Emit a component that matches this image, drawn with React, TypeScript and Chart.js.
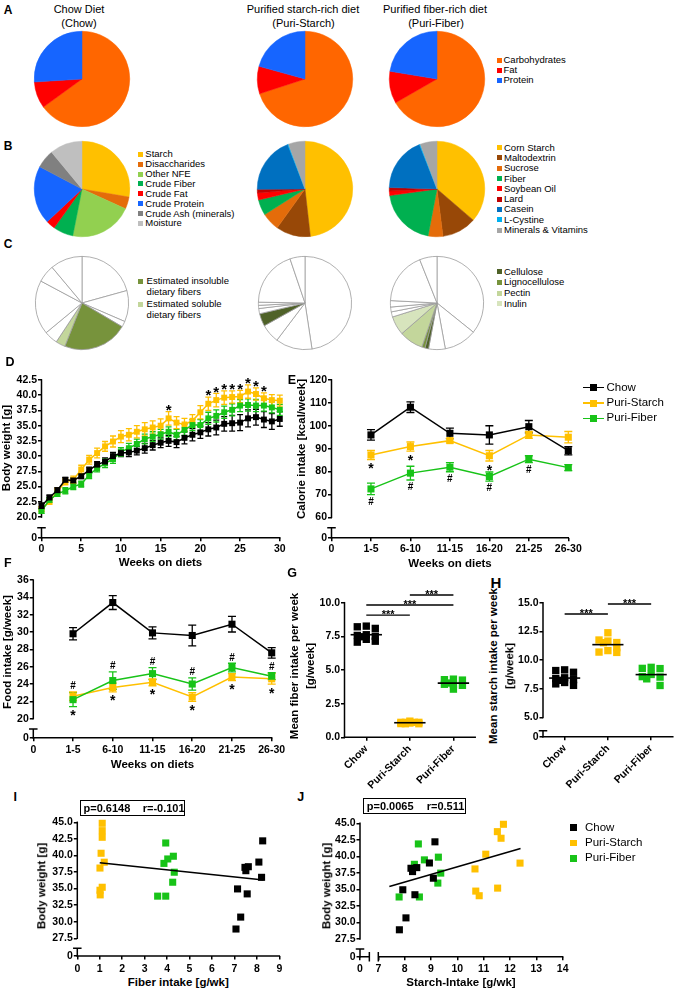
import React, { useEffect, useRef } from 'react';
import { Chart, registerables } from 'chart.js';

Chart.register(...registerables);

const FONT = "'Liberation Sans', Arial, Helvetica, sans-serif";
Chart.defaults.font.family = FONT;
Chart.defaults.color = '#000';

const BLACK = '#000000';
const YELLOW = '#FFC000';
const GREEN = '#18C318';

/* ================= DATA ================= */
/* Panel A: energy shares (%) */
const macroLabels = ['Carbohydrates', 'Fat', 'Protein'];
const macroColors = ['#FF6600', '#FF0000', '#1665FF'];
const macroChow = [65.0, 9.0, 26.0];
const macroPuriStarch = [70.0, 9.3, 20.7];
const macroPuriFiber = [66.7, 10.9, 22.4];

/* Panel B: composition (%) */
const chowCompLabels = ['Starch', 'Disaccharides', 'Other NFE', 'Crude Fiber', 'Crude Fat', 'Crude Protein', 'Crude Ash (minerals)', 'Moisture'];
const chowCompColors = ['#FFC000', '#E46C0A', '#92D050', '#00B050', '#FF0000', '#1665FF', '#808080', '#BFBFBF'];
const chowComp = [27.7, 4.1, 21.3, 6.8, 3.1, 19.7, 6.3, 11.0];
const puriCompLabels = ['Corn Starch', 'Maltodextrin', 'Sucrose', 'Fiber', 'Soybean Oil', 'Lard', 'Casein', 'L-Cystine', 'Minerals & Vitamins'];
const puriCompColors = ['#FFC000', '#984807', '#E46C0A', '#00B050', '#FF0000', '#C00000', '#0070C0', '#00B0F0', '#A6A6A6'];
const puriStarchComp = [48.2, 11.7, 6.1, 5.3, 2.4, 1.2, 19.2, 0.3, 5.6];
const puriFiberComp = [36.3, 11.7, 5.0, 19.8, 1.5, 1.2, 18.5, 0.3, 5.7];

/* Panel C: fiber slices (%) */
const fiberTypeColors: any = { other: '#FFFFFF', insoluble: '#77933C', soluble: '#C3D69B', cellulose: '#4F6228', lignocellulose: '#77933C', pectin: '#C3D69B', inulin: '#D7E4BD' };
const chowFiberSlices = [20.7, 10.8, 2.0, 22.5, 3.3, 4.7, 18.8, 6.1, 11.1];
const chowFiberTypes = ['other', 'other', 'other', 'insoluble', 'soluble', 'other', 'other', 'other', 'other'];
const starchFiberSlices = [47.6, 12.7, 6.6, 4.4, 1.8, 1.1, 1.1, 19.5, 5.2];
const starchFiberTypes = ['other', 'other', 'other', 'cellulose', 'other', 'other', 'other', 'other', 'other'];
const fiberFiberSlices = [35.78, 11.36, 5.78, 1.25, 1.11, 8.33, 6.56, 1.78, 1.67, 2.22, 18.14, 6.03];
const fiberFiberTypes = ['other', 'other', 'other', 'cellulose', 'lignocellulose', 'pectin', 'inulin', 'other', 'other', 'other', 'other', 'other'];

/* Panel D: body weight (g) */
const weeks = [0, 1, 2, 3, 4, 5, 6, 7, 8, 9, 10, 11, 12, 13, 14, 15, 16, 17, 18, 19, 20, 21, 22, 23, 24, 25, 26, 27, 28, 29, 30];
const bwChow = [21.8, 23.2, 24.4, 26.1, 26.0, 26.7, 27.7, 28.6, 29.1, 30.0, 30.5, 30.6, 30.9, 31.3, 31.8, 32.2, 32.5, 32.3, 33.0, 33.5, 33.9, 34.4, 34.7, 35.3, 35.4, 35.5, 36.2, 36.4, 36.0, 35.7, 36.1];
const bwChowSem = [0.5, 0.4, 0.4, 0.4, 0.4, 0.4, 0.5, 0.5, 0.6, 0.6, 0.6, 0.7, 0.7, 0.8, 0.8, 0.8, 0.9, 0.9, 1.0, 1.0, 1.0, 1.1, 1.2, 1.2, 1.3, 1.3, 1.4, 1.3, 1.3, 1.3, 1.2];
const bwStarch = [21.3, 22.5, 24.2, 25.8, 26.1, 27.8, 29.4, 30.5, 31.6, 32.4, 33.2, 33.5, 34.0, 34.4, 34.7, 35.0, 36.2, 35.5, 35.2, 35.8, 37.2, 38.6, 39.2, 39.6, 39.7, 39.8, 40.6, 40.2, 39.5, 39.2, 39.1];
const bwStarchSem = [0.4, 0.4, 0.5, 0.5, 0.6, 0.7, 0.7, 0.8, 0.8, 0.9, 1.0, 1.0, 1.0, 1.1, 1.1, 1.1, 1.1, 1.0, 1.0, 1.0, 1.1, 1.1, 1.1, 1.1, 1.0, 1.0, 1.1, 1.0, 0.9, 0.9, 0.9];
const bwFiber = [21.0, 22.8, 23.8, 24.3, 25.0, 25.4, 26.9, 28.0, 28.8, 29.5, 30.7, 31.3, 32.0, 32.8, 33.2, 33.6, 34.0, 33.5, 34.3, 35.1, 35.1, 36.2, 36.6, 37.2, 37.6, 38.3, 38.4, 38.3, 38.3, 38.0, 37.6];
const bwFiberSem = [0.4, 0.4, 0.4, 0.5, 0.5, 0.5, 0.6, 0.6, 0.7, 0.7, 0.7, 0.8, 0.8, 0.8, 0.8, 0.8, 0.8, 0.9, 0.9, 0.9, 0.9, 1.0, 1.0, 1.0, 1.0, 1.0, 1.0, 1.0, 0.9, 0.9, 0.9];
const bwStarchSigWeeks = [16, 21, 22, 23, 24, 25, 26, 27, 28];
const bwTicks = [20, 22.5, 25, 27.5, 30, 32.5, 35, 37.5, 40, 42.5];
const weekTicks = [0, 5, 10, 15, 20, 25, 30];

/* Panels E/F: per 5-week period */
const periodLabels = ['0', '1-5', '6-10', '11-15', '16-20', '21-25', '26-30'];
const periodPos = [1, 2, 3, 4, 5, 6];
const kcalChow = [96.0, 108.1, 96.7, 96.0, 99.6, 89.1];
const kcalChowSem = [2.3, 2.3, 2.3, 4.0, 2.7, 1.8];
const kcalStarch = [87.2, 90.9, 93.5, 86.9, 96.0, 95.0];
const kcalStarchSem = [2.0, 2.0, 1.0, 2.3, 1.5, 2.5];
const kcalFiber = [72.4, 79.3, 81.9, 77.8, 85.4, 81.7];
const kcalFiberSem = [2.5, 3.0, 2.0, 2.0, 1.5, 1.3];
const kcalStarchSig = [1, 2, 4];
const kcalFiberSig = [1, 2, 3, 4, 5];
const kcalTicks = [60, 70, 80, 90, 100, 110, 120];

const foodChow = [29.8, 33.4, 29.9, 29.6, 30.9, 27.6];
const foodChowSem = [0.7, 0.8, 0.7, 1.2, 0.9, 0.6];
const foodStarch = [22.6, 23.6, 24.2, 22.5, 24.8, 24.6];
const foodStarchSem = [0.5, 0.5, 0.4, 0.5, 0.4, 0.6];
const foodFiber = [22.2, 24.4, 25.2, 24.0, 25.9, 24.9];
const foodFiberSem = [0.8, 1.0, 0.7, 0.7, 0.5, 0.4];
const foodSig = [1, 2, 3, 4, 5, 6];
const foodTicks = [20, 22, 24, 26, 28, 30, 32, 34, 36];

/* Panels G-J: per mouse */
const groupLabels = ['Chow', 'Puri-Starch', 'Puri-Fiber'];
const chowFiberIntake = [8.26, 8.09, 7.47, 7.62, 7.51, 8.21, 7.14, 7.57, 7.28, 7.07];
const chowStarchIntake = [9.15, 8.94, 8.24, 8.46, 8.30, 9.09, 7.93, 8.39, 8.05, 7.80];
const chowBodyWeight = [42.2, 39.0, 38.2, 38.3, 37.7, 36.7, 34.95, 34.2, 30.7, 28.9];
const starchFiberIntake = [1.11, 1.11, 1.11, 1.06, 1.20, 1.01, 1.11, 1.01, 1.02];
const starchStarchIntake = [11.75, 11.52, 11.66, 11.08, 12.38, 10.67, 11.53, 10.70, 10.83];
const starchBodyWeight = [44.85, 43.74, 42.74, 40.33, 38.98, 38.1, 35.2, 34.75, 34.05];
const fiberFiberIntake = [3.94, 3.86, 4.03, 4.28, 4.32, 4.25, 3.58, 3.94];
const fiberStarchIntake = [8.52, 8.37, 8.75, 9.28, 9.37, 9.26, 7.79, 8.56];
const fiberBodyWeight = [41.88, 38.8, 39.47, 39.88, 37.47, 35.96, 33.86, 33.86];
const fiberIntakeTicks = [0, 2.5, 5, 7.5, 10];
const starchIntakeTicks = [5, 7.5, 10, 12.5, 15];
const sigFiberIntake = [[0, 1, 9.08], [0, 2, 9.83], [1, 2, 10.57]];
const sigStarchIntake = [[0, 1, 14.02], [1, 2, 14.89]];
const bwScatterTicks = [27.5, 30, 32.5, 35, 37.5, 40, 42.5, 45];
const fiberXTicks = [0, 1, 2, 3, 4, 5, 6, 7, 8, 9];
const starchXTicks = [7, 8, 9, 10, 11, 12, 13, 14];
const fitFiberX = [1.0, 8.3];
const fitFiberY = [38.9, 36.3];
const fitStarchX = [7.42, 12.4];
const fitStarchY = [35.45, 41.2];
const statsFiber = ['p=0.6148', 'r=-0.101'];
const statsStarch = ['p=0.0065', 'r=0.511'];

/* ================= LAYOUT (axis break positions) ================= */
const BW_ZERO = 16.6, BW_STUB = 18.24;
const KCAL_ZERO = 51.08, KCAL_STUB = 55.45;
const FOOD_ZERO = 17.81, FOOD_STUB = 18.81;
const STARCHI_ZERO = 3.32, STARCHI_STUB = 3.85;
const SC_ZERO = 24.83, SC_STUB = 25.99;
const SX_ZERO = 6.305, SX_STUB = 6.66;

/* ================= HELPERS ================= */
type Area = { l: number; r: number; t: number; b: number };
function frame(a: Area, m: { L: number; R: number; T: number; B: number }) {
  const left = Math.floor(a.l - m.L);
  const top = Math.floor(a.t - m.T);
  const width = Math.ceil(a.r + m.R - left);
  const height = Math.ceil(a.b + m.B - top);
  const L = a.l - left;
  const T = a.t - top;
  const R = width - L - (a.r - a.l);
  const B = height - T - (a.b - a.t);
  return { left, top, width, height, L, R, T, B, a };
}

function axis(kind: 'x' | 'y', p: any) {
  return {
    type: 'linear',
    position: kind === 'x' ? 'bottom' : 'left',
    min: p.min,
    max: p.max,
    bounds: 'data',
    afterBuildTicks: (s: any) => { s.ticks = p.ticks.map((v: number) => ({ value: v })); },
    afterFit: (s: any) => { if (kind === 'x') s.height = p.size; else s.width = p.size; },
    ticks: {
      autoSkip: false,
      callback: (_v: any, i: number) => p.labels[i],
      color: BLACK,
      font: { family: FONT, size: p.font ?? 10.5, weight: 'bold' },
      padding: p.pad ?? 1,
      maxRotation: p.rot ?? 0,
      minRotation: p.rot ?? 0,
    },
    grid: { display: true, drawOnChartArea: false, drawTicks: true, tickLength: 3.5, color: BLACK, tickColor: BLACK, tickWidth: 1.5, lineWidth: 1.5 },
    border: { display: false },
  };
}

function series(xs: number[], ys: number[], errs: number[] | null, color: string, r: number, showLine = true) {
  return {
    data: xs.map((x, i) => ({ x, y: ys[i] })),
    errors: errs,
    borderColor: color,
    backgroundColor: color,
    pointBackgroundColor: color,
    pointBorderWidth: 0,
    pointStyle: 'rect',
    pointRadius: r,
    borderWidth: 1.5,
    showLine,
    tension: 0,
    clip: false,
  };
}

function mean(v: number[]) { return v.reduce((s, x) => s + x, 0) / v.length; }

function swarm(values: number[], center: number, pxX: number, pxY: number, size: number, offs: number[]) {
  const order = values.map((_v, i) => i).sort((a, b) => values[b] - values[a]);
  const placed: { x: number; y: number }[] = [];
  const out: number[] = new Array(values.length);
  for (const i of order) {
    const y = values[i] * pxY;
    let best = offs[0];
    let bestScore = -Infinity;
    for (const off of offs) {
      let minD = Infinity;
      for (const p of placed) minD = Math.min(minD, Math.max(Math.abs(p.x - off), Math.abs(p.y - y)));
      if (minD >= size) { best = off; break; }
      if (minD > bestScore) { bestScore = minD; best = off; }
    }
    placed.push({ x: best, y });
    out[i] = center + best / pxX;
  }
  return out;
}

function makePrism(cfg: any) {
  return {
    id: 'prism',
    beforeDatasetsDraw(chart: any) {
      const ctx = chart.ctx;
      const xs = chart.scales.x, ys = chart.scales.y, ca = chart.chartArea;
      ctx.save();
      ctx.strokeStyle = BLACK;
      ctx.lineWidth = 1.5;
      ctx.lineCap = 'square';
      for (const s of cfg.segs || []) {
        ctx.beginPath();
        if (s.axis === 'y') {
          const x = ca.left;
          const y1 = ys.getPixelForValue(s.from), y2 = ys.getPixelForValue(s.to);
          ctx.moveTo(x, y1); ctx.lineTo(x, y2);
          if (s.capTo) { ctx.moveTo(x - 3.5, y2); ctx.lineTo(x + 3.5, y2); }
        } else {
          const y = ca.bottom;
          const x1 = xs.getPixelForValue(s.from), x2 = xs.getPixelForValue(s.to);
          ctx.moveTo(x1, y); ctx.lineTo(x2, y);
          if (s.capFrom) { ctx.moveTo(x1, y - 4); ctx.lineTo(x1, y + 4); }
          if (s.capTo) { ctx.moveTo(x2, y - 4); ctx.lineTo(x2, y + 4); }
        }
        ctx.stroke();
      }
      ctx.lineCap = 'butt';
      const cap = cfg.cap ?? 3;
      chart.data.datasets.forEach((ds: any) => {
        if (!ds.errors) return;
        ctx.strokeStyle = ds.borderColor;
        ctx.lineWidth = 1.3;
        ds.data.forEach((p: any, j: number) => {
          const e = ds.errors[j];
          const x = xs.getPixelForValue(p.x);
          const y1 = ys.getPixelForValue(p.y - e), y2 = ys.getPixelForValue(p.y + e);
          ctx.beginPath();
          ctx.moveTo(x, y1); ctx.lineTo(x, y2);
          ctx.moveTo(x - cap, y1); ctx.lineTo(x + cap, y1);
          ctx.moveTo(x - cap, y2); ctx.lineTo(x + cap, y2);
          ctx.stroke();
        });
      });
      ctx.restore();
    },
    afterDatasetsDraw(chart: any) {
      const ctx = chart.ctx;
      const xs = chart.scales.x, ys = chart.scales.y;
      ctx.save();
      ctx.strokeStyle = BLACK;
      ctx.fillStyle = BLACK;
      ctx.lineWidth = 1.6;
      for (const m of cfg.means || []) {
        const y = ys.getPixelForValue(m.y);
        ctx.beginPath();
        ctx.moveTo(xs.getPixelForValue(m.x - m.half), y);
        ctx.lineTo(xs.getPixelForValue(m.x + m.half), y);
        ctx.stroke();
      }
      ctx.lineWidth = 1.4;
      ctx.textAlign = 'center';
      ctx.textBaseline = 'alphabetic';
      for (const s of cfg.sigs || []) {
        const y = ys.getPixelForValue(s[2]);
        const x1 = xs.getPixelForValue(s[0]), x2 = xs.getPixelForValue(s[1]);
        ctx.beginPath(); ctx.moveTo(x1, y); ctx.lineTo(x2, y); ctx.stroke();
        ctx.font = `bold 11px ${FONT}`;
        ctx.fillText('***', (x1 + x2) / 2, y - 1.5 + 0.43 * 11);
      }
      for (const m of cfg.marks || []) {
        ctx.font = `bold ${m.size}px ${FONT}`;
        const x = xs.getPixelForValue(m.x);
        const cy = ys.getPixelForValue(m.y) + m.dy;
        ctx.fillText(m.text, x, cy + m.k * m.size);
      }
      ctx.restore();
    },
  };
}

function cartesian(fr: any, datasets: any[], xAxis: any, yAxis: any, prism: any) {
  return {
    type: 'line',
    data: { datasets },
    options: {
      responsive: false,
      maintainAspectRatio: false,
      animation: false,
      events: [],
      layout: { padding: { left: 0, right: fr.R, top: fr.T, bottom: 0 } },
      scales: { x: xAxis, y: yAxis },
      plugins: { legend: { display: false }, tooltip: { enabled: false } },
    },
    plugins: [makePrism(prism)],
  };
}

function ChartBox({ fr, make }: any) {
  const ref = useRef<HTMLCanvasElement>(null);
  useEffect(() => {
    const c = new Chart(ref.current as HTMLCanvasElement, make());
    return () => c.destroy();
  }, []);
  return <canvas ref={ref} width={fr.width} height={fr.height} style={{ position: 'absolute', left: fr.left, top: fr.top, width: fr.width, height: fr.height }} />;
}

function PieBox({ cx, cy, r, values, colors, outline }: any) {
  const size = 2 * r + 2;
  const fr = { left: Math.round(cx - r - 1), top: Math.round(cy - r - 1), width: size, height: size };
  const make = () => ({
    type: 'pie',
    data: { datasets: [{ data: values, backgroundColor: colors, borderColor: outline ? '#9C9C9C' : colors, borderWidth: outline ? 0.8 : 0.5 }] },
    options: { responsive: false, animation: false, events: [], layout: { padding: 1 }, plugins: { legend: { display: false }, tooltip: { enabled: false } } },
  });
  return <ChartBox fr={fr} make={make} />;
}

function Txt({ x, y, children, size = 11, bold = false, align = 'center', rot = 0 }: any) {
  const tx = align === 'center' ? '-50%' : align === 'right' ? '-100%' : '0%';
  return (
    <div style={{ position: 'absolute', left: x, top: y, fontSize: size, fontWeight: bold ? 700 : 400, lineHeight: 1, whiteSpace: 'nowrap', transform: `translate(${tx}, -50%)` + (rot ? ` rotate(${rot}deg)` : ''), transformOrigin: '50% 50%' }}>
      {children}
    </div>
  );
}

function Sw({ x, y, size, color }: any) {
  return <div style={{ position: 'absolute', left: x, top: y - size / 2, width: size, height: size, background: color }} />;
}

function Legend({ x, y0, step, labels, colors, size = 9.5, sq = 5, gap = 2 }: any) {
  return (
    <>
      {labels.map((l: string, i: number) => (
        <React.Fragment key={l}>
          <Sw x={x} y={y0 + i * step} size={sq} color={colors[i]} />
          <Txt x={x + sq + gap} y={y0 + i * step} size={size} align="left">{l}</Txt>
        </React.Fragment>
      ))}
    </>
  );
}

/* ================= CHART FRAMES ================= */
const frD = frame({ l: 41.5, r: 279.8, t: 380, b: 537.7 }, { L: 36, R: 12, T: 12, B: 22 });
const frE = frame({ l: 331.5, r: 568.3, t: 380, b: 537.7 }, { L: 30, R: 17, T: 12, B: 22 });
const frF = frame({ l: 33.3, r: 271.7, t: 580, b: 737.7 }, { L: 28, R: 17, T: 10, B: 22 });
const frG = frame({ l: 344.5, r: 475.2, t: 602.7, b: 737.3 }, { L: 30, R: 6, T: 22, B: 58 });
const frH = frame({ l: 543, r: 674.5, t: 602.7, b: 736.8 }, { L: 30, R: 3, T: 22, B: 58 });
const frI = frame({ l: 77.3, r: 279.3, t: 822.3, b: 956 }, { L: 32, R: 10, T: 10, B: 20 });
const frJ = frame({ l: 360, r: 562.7, t: 823.3, b: 956.7 }, { L: 32, R: 10, T: 10, B: 20 });

const f1 = (v: number) => v.toFixed(1);

function makeD() {
  const marks = bwStarchSigWeeks.map((w) => {
    const i = weeks.indexOf(w);
    return { x: w, y: bwStarch[i] + bwStarchSem[i], dy: -5.5, text: '*', size: 15, k: 0.58 };
  });
  return cartesian(
    frD,
    [
      series(weeks, bwChow, bwChowSem, BLACK, 4.2),
      series(weeks, bwFiber, bwFiberSem, GREEN, 4.2),
      series(weeks, bwStarch, bwStarchSem, YELLOW, 4.2),
    ],
    axis('x', { min: 0, max: 30, ticks: weekTicks, labels: weekTicks.map(String), size: frD.B, pad: 1.5 }),
    axis('y', { min: BW_ZERO, max: 42.5, ticks: [BW_ZERO, ...bwTicks], labels: ['0', ...bwTicks.map(f1)], size: frD.L }),
    { segs: [{ axis: 'y', from: BW_ZERO, to: BW_STUB, capTo: true }, { axis: 'y', from: 20, to: 42.5 }, { axis: 'x', from: 0, to: 30 }], cap: 3, marks }
  );
}

function makeE() {
  const marks: any[] = [];
  kcalStarchSig.forEach((p) => { const i = p - 1; marks.push({ x: p, y: kcalStarch[i] - kcalStarchSem[i], dy: 5.5, text: '*', size: 14, k: 0.58 }); });
  kcalFiberSig.forEach((p) => { const i = p - 1; marks.push({ x: p, y: kcalFiber[i] - kcalFiberSem[i], dy: 6.5, text: '#', size: 10, k: 0.35 }); });
  return cartesian(
    frE,
    [
      series(periodPos, kcalChow, kcalChowSem, BLACK, 5),
      series(periodPos, kcalFiber, kcalFiberSem, GREEN, 5),
      series(periodPos, kcalStarch, kcalStarchSem, YELLOW, 5),
    ],
    axis('x', { min: 0, max: 6, ticks: [0, ...periodPos], labels: periodLabels, size: frE.B, pad: 1.5 }),
    axis('y', { min: KCAL_ZERO, max: 120, ticks: [KCAL_ZERO, ...kcalTicks], labels: ['0', ...kcalTicks.map(String)], size: frE.L }),
    { segs: [{ axis: 'y', from: KCAL_ZERO, to: KCAL_STUB, capTo: true }, { axis: 'y', from: 60, to: 120 }, { axis: 'x', from: 0, to: 6 }], cap: 4, marks }
  );
}

function makeF() {
  const marks: any[] = [];
  foodSig.forEach((p) => {
    const i = p - 1;
    const top = Math.max(foodFiber[i] + foodFiberSem[i], foodStarch[i] + foodStarchSem[i]);
    const bot = Math.min(foodFiber[i] - foodFiberSem[i], foodStarch[i] - foodStarchSem[i]);
    marks.push({ x: p, y: top, dy: -6, text: '#', size: 10, k: 0.35 });
    marks.push({ x: p, y: bot, dy: 5.5, text: '*', size: 14, k: 0.58 });
  });
  return cartesian(
    frF,
    [
      series(periodPos, foodChow, foodChowSem, BLACK, 5),
      series(periodPos, foodFiber, foodFiberSem, GREEN, 5),
      series(periodPos, foodStarch, foodStarchSem, YELLOW, 5),
    ],
    axis('x', { min: 0, max: 6, ticks: [0, ...periodPos], labels: periodLabels, size: frF.B, pad: 3 }),
    axis('y', { min: FOOD_ZERO, max: 36, ticks: [FOOD_ZERO, ...foodTicks], labels: ['0', ...foodTicks.map(String)], size: frF.L }),
    { segs: [{ axis: 'y', from: FOOD_ZERO, to: FOOD_STUB, capTo: true }, { axis: 'y', from: 20, to: 36 }, { axis: 'x', from: 0, to: 6 }], cap: 4, marks }
  );
}

function dotPlot(fr: any, groups: number[][], yMin: number, yMax: number, ticks: number[], labels: string[], segs: any[], sigs: any[]) {
  const a = fr.a;
  const pxX = (a.r - a.l) / 3;
  const pxY = (a.b - a.t) / (yMax - yMin);
  const colors = [BLACK, YELLOW, GREEN];
  const offs = [0, -9, 9, -4.5, 4.5];
  const datasets = groups.map((vals, gi) => series(swarm(vals, gi, pxX, pxY, 7.5, offs), vals, null, colors[gi], 5.2, false));
  const means = groups.map((vals, gi) => ({ x: gi, y: mean(vals), half: 0.36 }));
  return cartesian(
    fr,
    datasets,
    axis('x', { min: -0.5, max: 2.5, ticks: [0, 1, 2], labels: groupLabels, size: fr.B, pad: 2, rot: 45 }),
    axis('y', { min: yMin, max: yMax, ticks, labels, size: fr.L }),
    { segs: [...segs, { axis: 'x', from: -0.5, to: 2.5 }], means, sigs }
  );
}

function makeG() {
  return dotPlot(frG, [chowFiberIntake, starchFiberIntake, fiberFiberIntake], 0, 10, fiberIntakeTicks, fiberIntakeTicks.map(f1),
    [{ axis: 'y', from: 0, to: 10 }], sigFiberIntake);
}

function makeH() {
  return dotPlot(frH, [chowStarchIntake, starchStarchIntake, fiberStarchIntake], STARCHI_ZERO, 15, [STARCHI_ZERO, ...starchIntakeTicks], ['0', ...starchIntakeTicks.map(f1)],
    [{ axis: 'y', from: STARCHI_ZERO, to: STARCHI_STUB, capTo: true }, { axis: 'y', from: 5, to: 15 }], sigStarchIntake);
}

function fitLine(xs: number[], ys: number[]) {
  return { data: xs.map((x, i) => ({ x, y: ys[i] })), borderColor: BLACK, borderWidth: 1.6, pointRadius: 0, showLine: true, clip: false };
}

function makeI() {
  return cartesian(
    frI,
    [
      fitLine(fitFiberX, fitFiberY),
      series(chowFiberIntake, chowBodyWeight, null, BLACK, 5, false),
      series(fiberFiberIntake, fiberBodyWeight, null, GREEN, 5, false),
      series(starchFiberIntake, starchBodyWeight, null, YELLOW, 5, false),
    ],
    axis('x', { min: 0, max: 9, ticks: fiberXTicks, labels: fiberXTicks.map(String), size: frI.B, pad: 3 }),
    axis('y', { min: SC_ZERO, max: 45, ticks: [SC_ZERO, ...bwScatterTicks], labels: ['0', ...bwScatterTicks.map(f1)], size: frI.L }),
    { segs: [{ axis: 'y', from: SC_ZERO, to: SC_STUB, capTo: true }, { axis: 'y', from: 27.5, to: 45 }, { axis: 'x', from: 0, to: 9 }] }
  );
}

function makeJ() {
  return cartesian(
    frJ,
    [
      fitLine(fitStarchX, fitStarchY),
      series(chowStarchIntake, chowBodyWeight, null, BLACK, 5, false),
      series(fiberStarchIntake, fiberBodyWeight, null, GREEN, 5, false),
      series(starchStarchIntake, starchBodyWeight, null, YELLOW, 5, false),
    ],
    axis('x', { min: SX_ZERO, max: 14, ticks: [SX_ZERO, ...starchXTicks], labels: ['0', ...starchXTicks.map(String)], size: frJ.B, pad: 3 }),
    axis('y', { min: SC_ZERO, max: 45, ticks: [SC_ZERO, ...bwScatterTicks], labels: ['0', ...bwScatterTicks.map(f1)], size: frJ.L }),
    {
      segs: [
        { axis: 'y', from: SC_ZERO, to: SC_STUB, capTo: true },
        { axis: 'y', from: 27.5, to: 45 },
        { axis: 'x', from: SX_ZERO, to: SX_STUB, capTo: true },
        { axis: 'x', from: 7, to: 14, capFrom: true },
      ],
    }
  );
}

/* ================= APP ================= */
const seriesLegend = [
  { label: 'Chow', color: BLACK },
  { label: 'Puri-Starch', color: YELLOW },
  { label: 'Puri-Fiber', color: GREEN },
];

function StatBox({ x, y, w, h, items, x2 }: any) {
  return (
    <>
      <div style={{ position: 'absolute', left: x, top: y, width: w, height: h, border: '1.6px solid #000', boxSizing: 'border-box' }} />
      <Txt x={x + 3.5} y={y + h / 2} size={11} bold align="left">{items[0]}</Txt>
      <Txt x={x2} y={y + h / 2} size={11} bold align="left">{items[1]}</Txt>
    </>
  );
}

export default function App() {
  const pieXs = [82, 304.5, 436.5];
  return (
    <div style={{ position: 'absolute', left: 0, top: 0, width: 678, height: 991, background: '#fff', overflow: 'hidden', fontFamily: FONT, color: '#000' }}>
      {/* Row A */}
      <PieBox cx={pieXs[0]} cy={79} r={48} values={macroChow} colors={macroColors} />
      <PieBox cx={pieXs[1]} cy={79} r={48} values={macroPuriStarch} colors={macroColors} />
      <PieBox cx={pieXs[2]} cy={79} r={48} values={macroPuriFiber} colors={macroColors} />
      {/* Row B */}
      <PieBox cx={pieXs[0]} cy={189} r={48} values={chowComp} colors={chowCompColors} />
      <PieBox cx={pieXs[1]} cy={189} r={48} values={puriStarchComp} colors={puriCompColors} />
      <PieBox cx={pieXs[2]} cy={189} r={48} values={puriFiberComp} colors={puriCompColors} />
      {/* Row C */}
      <PieBox cx={pieXs[0]} cy={302.5} r={47} values={chowFiberSlices} colors={chowFiberTypes.map((t) => fiberTypeColors[t])} outline />
      <PieBox cx={pieXs[1]} cy={302.5} r={47} values={starchFiberSlices} colors={starchFiberTypes.map((t) => fiberTypeColors[t])} outline />
      <PieBox cx={pieXs[2]} cy={302.5} r={47} values={fiberFiberSlices} colors={fiberFiberTypes.map((t) => fiberTypeColors[t])} outline />

      <ChartBox fr={frD} make={makeD} />
      <ChartBox fr={frE} make={makeE} />
      <ChartBox fr={frF} make={makeF} />
      <ChartBox fr={frG} make={makeG} />
      <ChartBox fr={frH} make={makeH} />
      <ChartBox fr={frI} make={makeI} />
      <ChartBox fr={frJ} make={makeJ} />

      {/* Titles row A */}
      <Txt x={79} y={8.7} size={11}>Chow Diet</Txt>
      <Txt x={79} y={23.3} size={11}>(Chow)</Txt>
      <Txt x={303} y={8.7} size={11}>Purified starch-rich diet</Txt>
      <Txt x={303.5} y={23.3} size={11}>(Puri-Starch)</Txt>
      <Txt x={435} y={8.7} size={11}>Purified fiber-rich diet</Txt>
      <Txt x={436} y={23.3} size={11}>(Puri-Fiber)</Txt>

      {/* Panel letters */}
      <Txt x={8.2} y={10.3} size={12} bold>A</Txt>
      <Txt x={8.2} y={145.5} size={12} bold>B</Txt>
      <Txt x={8.2} y={244} size={12} bold>C</Txt>
      <Txt x={10} y={361.5} size={12.5} bold>D</Txt>
      <Txt x={292} y={379.7} size={12.5} bold>E</Txt>
      <Txt x={7.8} y={562.5} size={12.5} bold>F</Txt>
      <Txt x={292} y={572.5} size={12.5} bold>G</Txt>
      <Txt x={495.8} y={582} size={15} bold>H</Txt>
      <Txt x={15.3} y={796.7} size={12.5} bold>I</Txt>
      <Txt x={300.7} y={797} size={12.5} bold>J</Txt>

      {/* Pie legends */}
      <Legend x={496.5} y0={60} step={10.2} labels={macroLabels} colors={macroColors} />
      <Legend x={138.3} y0={154.3} step={9.87} labels={chowCompLabels} colors={chowCompColors} />
      <Legend x={497} y0={147.7} step={10.29} labels={puriCompLabels} colors={puriCompColors} />
      <Sw x={138.3} y={281} size={5} color={fiberTypeColors.insoluble} />
      <Txt x={146.6} y={281} size={9.5} align="left">Estimated insoluble</Txt>
      <Txt x={146.6} y={291.5} size={9.5} align="left">dietary fibers</Txt>
      <Sw x={138.3} y={304.3} size={5} color={fiberTypeColors.soluble} />
      <Txt x={146.6} y={304.3} size={9.5} align="left">Estimated soluble</Txt>
      <Txt x={146.6} y={314.8} size={9.5} align="left">dietary fibers</Txt>
      <Legend x={497} y0={271.7} step={10.7} labels={['Cellulose', 'Lignocellulose', 'Pectin', 'Inulin']} colors={[fiberTypeColors.cellulose, fiberTypeColors.lignocellulose, fiberTypeColors.pectin, fiberTypeColors.inulin]} />

      {/* E legend */}
      {seriesLegend.map((s, i) => {
        const y = 387.7 + i * 15.3;
        return (
          <React.Fragment key={s.label}>
            <div style={{ position: 'absolute', left: 583, top: y - 0.75, width: 21, height: 1.5, background: s.color }} />
            <Sw x={589.8} y={y} size={7} color={s.color} />
            <Txt x={606.5} y={y} size={11.5} align="left">{s.label}</Txt>
          </React.Fragment>
        );
      })}
      {/* J legend */}
      {seriesLegend.map((s, i) => {
        const y = 827.7 + i * 15.3;
        return (
          <React.Fragment key={'j' + s.label}>
            <Sw x={570} y={y} size={6.5} color={s.color} />
            <Txt x={585} y={y} size={11.5} align="left">{s.label}</Txt>
          </React.Fragment>
        );
      })}

      {/* Axis titles */}
      <Txt x={7.2} y={448} size={11.5} bold rot={-90}>Body weight [g]</Txt>
      <Txt x={160.5} y={563.3} size={11.5} bold>Weeks on diets</Txt>
      <Txt x={301.5} y={449} size={11.5} bold rot={-90}>Calorie intake [kcal/week]</Txt>
      <Txt x={450} y={564} size={11.5} bold>Weeks on diets</Txt>
      <Txt x={8.3} y={652} size={11.5} bold rot={-90}>Food intake [g/week]</Txt>
      <Txt x={152.5} y={764.5} size={11.5} bold>Weeks on diets</Txt>
      <Txt x={295} y={666} size={11.5} bold rot={-90}>Mean fiber intake per week</Txt>
      <Txt x={311} y={666} size={11.5} bold rot={-90}>[g/week]</Txt>
      <Txt x={494} y={666} size={11.5} bold rot={-90}>Mean starch intake per week</Txt>
      <Txt x={510} y={666} size={11.5} bold rot={-90}>[g/week]</Txt>
      <Txt x={42} y={886} size={11.5} bold rot={-90}>Body weight [g]</Txt>
      <Txt x={178.3} y={982.7} size={11.5} bold>Fiber intake [g/wk]</Txt>
      <Txt x={326.7} y={886} size={11.5} bold rot={-90}>Body weight [g]</Txt>
      <Txt x={461} y={983.3} size={11.5} bold>Starch-Intake [g/wk]</Txt>

      {/* Stats boxes */}
      <StatBox x={80} y={799.5} w={104.5} h={16} items={statsFiber} x2={142.7} />
      <StatBox x={363.3} y={797.5} w={102.7} h={16.5} items={statsStarch} x2={426.7} />
    </div>
  );
}
